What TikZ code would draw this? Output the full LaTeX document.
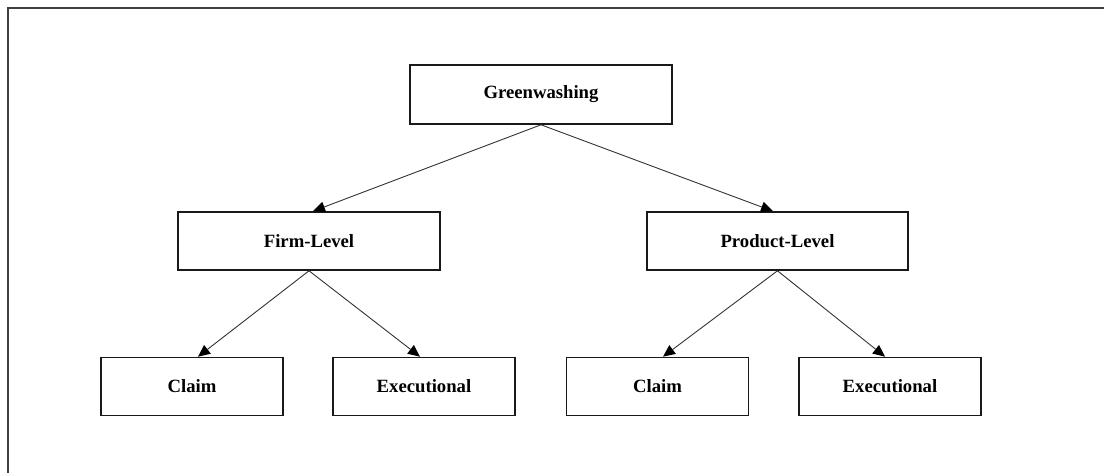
\documentclass[tikz,border=0pt]{standalone}
\usepackage{fontspec}
\setmainfont{Liberation Serif}
\usetikzlibrary{arrows.meta}
\begin{document}
\begin{tikzpicture}[x=1pt,y=-1pt,
  box/.style={draw=black!90, line width=1.6pt, rectangle, inner sep=0pt,
    minimum height=58pt, font=\fontsize{18.7}{22}\selectfont\bfseries},
  wide/.style={box, minimum width=262pt},
  leaf/.style={box, minimum width=182pt},
  link/.style={draw=black!80, line width=0.9pt,
    -{Triangle[length=12pt,width=11pt,fill=black,line width=0pt]}},
  frame/.style={draw=black!75, line width=1.6pt}]
  \useasboundingbox (0,0) rectangle (1104,473);
  % open frame: top and left edges
  \coordinate (fb) at (8,473);
  \coordinate (fc) at (8,8);
  \coordinate (fr) at (1104,8);
  \draw[frame] (fb) -- (fc) -- (fr);
  % tree
  \node[wide, minimum height=59pt] (gw) at (541,94.5) {Greenwashing};
  \node[wide] (fl) at (309,241) {Firm-Level};
  \node[wide, minimum width=261pt] (pl) at (777.5,241) {Product-Level};
  \node[leaf] (c1) at (192,386.5) {Claim};
  \node[leaf] (e1) at (424,386.5) {Executional};
  \node[leaf] (c2) at (657.5,386.5) {Claim};
  \node[leaf] (e2) at (890,386.5) {Executional};
  % connectors
  \draw[link] (gw.south) -- ([xshift=4pt]fl.north);
  \draw[link] (gw.south) -- ([xshift=-4.5pt]pl.north);
  \draw[link] (fl.south) -- ([xshift=6pt]c1.north);
  \draw[link] (fl.south) -- ([xshift=-4pt]e1.north);
  \draw[link] (pl.south) -- ([xshift=5.5pt]c2.north);
  \draw[link] (pl.south) -- ([xshift=-5pt]e2.north);
\end{tikzpicture}
\end{document}
